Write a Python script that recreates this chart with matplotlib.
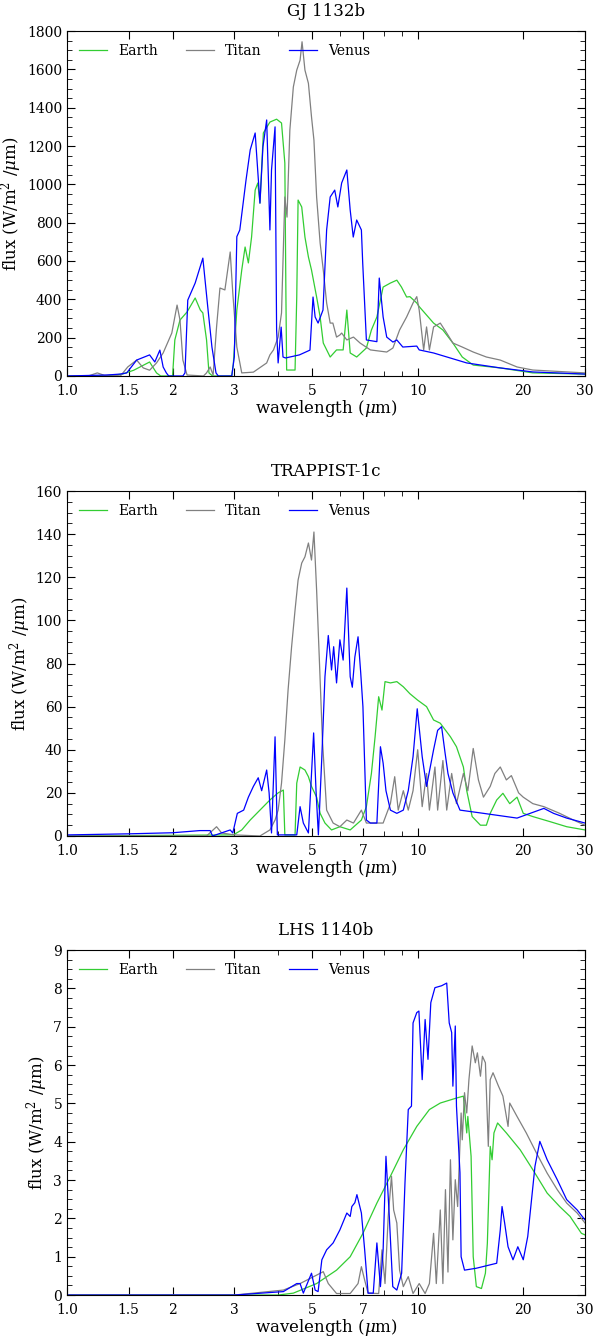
import numpy as np
import matplotlib
matplotlib.use('Agg')
import matplotlib.pyplot as plt
from matplotlib.ticker import FixedLocator, FixedFormatter, AutoMinorLocator, NullFormatter

plt.rcParams.update({
    'font.family': 'serif',
    'font.serif': ['DejaVu Serif'],
    'mathtext.fontset': 'dejavuserif',
    'font.size': 12,
    'xtick.direction': 'in',
    'ytick.direction': 'in',
    'xtick.top': True,
    'ytick.right': True,
    'xtick.major.size': 6,
    'xtick.minor.size': 3.5,
    'ytick.major.size': 6,
    'ytick.minor.size': 3.5,
    'legend.frameon': False,
})

# ---- GJ 1132b ----
gj_earth_wl = [1.0, 1.3, 1.44, 1.55, 1.72, 1.8, 1.85, 2.0, 2.03, 2.1, 2.2, 2.32, 2.4, 2.44, 2.5, 2.54, 2.6,
               2.95, 2.98, 3.05, 3.15, 3.22, 3.29, 3.36, 3.44, 3.5, 3.55, 3.63, 3.79, 3.96, 4.09, 4.18, 4.21,
               4.23, 4.47, 4.52, 4.56, 4.67, 4.77, 4.88, 4.98, 5.15, 5.27, 5.38, 5.63, 5.87, 6.13, 6.28, 6.42,
               6.7, 7.14, 7.38, 7.65, 7.97, 8.36, 8.72, 8.99, 9.3, 9.5, 9.94, 10.1, 11.1, 11.8, 12.6, 13.4,
               14.4, 17.2, 21.3, 30.0]
gj_earth_flux = [0, 0, 10, 30, 73, 16, 0, 0, 188, 292, 334, 407, 344, 329, 188, 16, 0,
                 0, 60, 344, 553, 673, 590, 725, 970, 1007, 902, 1268, 1325, 1340, 1320, 1111, 412,
                 31, 31, 412, 918, 882, 725, 621, 553, 412, 308, 172, 99, 136, 136, 344, 120,
                 99, 146, 240, 308, 464, 485, 500, 464, 412, 414, 381, 362, 276, 240, 172, 99,
                 57, 42, 16, 10]

gj_titan_wl = [1.0, 1.15, 1.22, 1.28, 1.33, 1.42, 1.49, 1.58, 1.65, 1.72, 1.8, 1.88, 1.99, 2.06, 2.1, 2.14,
               2.2, 2.45, 2.5, 2.56, 2.61, 2.67, 2.73, 2.82, 2.92, 2.97, 3.05, 3.15, 3.4, 3.71, 3.79, 3.88,
               4.0, 4.09, 4.18, 4.24, 4.32, 4.42, 4.52, 4.62, 4.68, 4.77, 4.88, 4.98, 5.06, 5.15, 5.27,
               5.38, 5.5, 5.63, 5.73, 5.87, 6.0, 6.07, 6.28, 6.56, 6.85, 7.33, 8.16, 8.5, 8.88, 9.3, 9.7,
               9.94, 10.1, 10.4, 10.6, 10.8, 11.1, 11.6, 12.1, 12.6, 13.4, 14.4, 15.7, 17.2, 19.2, 21.3,
               30.0]
gj_titan_flux = [0, 0, 16, 3, 5, 0, 47, 83, 42, 30, 68, 120, 224, 370, 292, 83,
                 5, 0, 16, 47, 5, 256, 459, 449, 647, 433, 151, 16, 20, 68, 110, 136,
                 203, 329, 934, 829, 1283, 1508, 1596, 1648, 1744, 1596, 1527, 1352, 1231, 934, 694,
                 553, 381, 276, 276, 203, 214, 224, 188, 203, 172, 136, 125, 146, 240, 308, 381,
                 414, 344, 136, 256, 136, 256, 276, 224, 172, 151, 125, 99, 83, 47, 31,
                 16]

gj_venus_wl = [1.0, 1.3, 1.42, 1.48, 1.58, 1.72, 1.78, 1.84, 1.88, 1.92, 1.95, 2.14, 2.17, 2.21, 2.32, 2.44,
               2.52, 2.59, 2.66, 2.7, 2.95, 3.0, 3.05, 3.11, 3.24, 3.33, 3.44, 3.55, 3.62, 3.71, 3.79,
               3.83, 3.92, 3.96, 4.0, 4.08, 4.13, 4.2, 4.6, 4.93, 5.03, 5.1, 5.2, 5.37, 5.5, 5.63, 5.8,
               5.92, 6.07, 6.28, 6.42, 6.55, 6.7, 6.91, 6.97, 7.14, 7.65, 7.77, 7.97, 8.16, 8.5, 8.72,
               9.07, 9.94, 10.1, 11.1, 13.8, 17.2, 21.3, 30.0]
gj_venus_flux = [0, 5, 10, 16, 83, 110, 73, 135, 47, 16, 0, 0, 16, 396, 485, 615,
                 360, 151, 16, 0, 0, 100, 727, 762, 1023, 1180, 1268, 902, 1195, 1336, 762,
                 1075, 1300, 240, 68, 255, 99, 94, 110, 135, 412, 308, 276, 344, 762, 934, 970,
                 882, 1007, 1075, 866, 725, 814, 762, 590, 188, 179, 511, 308, 203, 177, 188,
                 151, 156, 136, 120, 68, 42, 21, 10]

# ---- TRAPPIST-1c ----
tr_earth_wl = [1.0, 2.98, 3.15, 3.33, 3.55, 3.79, 4.0, 4.14, 4.18, 4.47, 4.52, 4.62, 4.77, 4.88, 4.98,
               5.15, 5.27, 5.44, 5.68, 6.0, 6.42, 6.91, 7.14, 7.38, 7.56, 7.74, 7.91, 8.07, 8.36, 8.72,
               9.1, 9.5, 10.0, 10.6, 11.1, 11.6, 12.4, 12.9, 13.5, 13.8, 14.3, 15.1, 15.7, 16.1, 16.8,
               17.5, 18.3, 19.2, 20.0, 21.3, 23.9, 26.6, 30.0]
tr_earth_flux = [0, 0.5, 2.8, 7.4, 12, 16.7, 20, 21.3, 0.5, 0.5, 24.5, 32, 30.6, 27.5, 23,
                 18, 10.5, 6, 2.8, 4.3, 2.8, 7.4, 13.6, 29, 46, 64.6, 58.4, 71.6, 71, 71.6,
                 69.2, 66, 63, 60, 53.8, 52.3, 46, 41.4, 32, 21, 9, 5, 5, 10.5, 16.7,
                 19.8, 15, 18, 10.5, 9, 6.6, 4.3, 2.8]

tr_titan_wl = [1.0, 2.5, 2.67, 2.76, 3.0, 3.55, 3.79, 3.92, 4.0, 4.09, 4.18, 4.27, 4.37, 4.47, 4.56, 4.67,
               4.77, 4.88, 4.98, 5.06, 5.15, 5.24, 5.35, 5.5, 5.74, 6.0, 6.28, 6.56, 6.91, 7.14, 7.97,
               8.36, 8.6, 8.8, 9.1, 9.4, 9.7, 10.0, 10.3, 10.6, 10.8, 11.2, 11.4, 11.8, 12.1, 12.5,
               12.9, 13.5, 13.9, 14.4, 14.9, 15.4, 16.1, 16.6, 17.2, 17.9, 18.5, 19.4, 20.0, 21.3,
               22.9, 25.4, 27.8, 30.0]
tr_titan_flux = [0, 0, 4.3, 1.4, 0.5, 0, 2.8, 7.4, 12, 24.5, 44.5, 67.7, 87.8, 104.8, 118.7, 126.6,
                 129.5, 135.9, 128, 141, 114, 83, 44.5, 12, 6, 4.3, 7.4, 6, 12, 6, 6,
                 15, 27.5, 12, 21, 12, 21, 40, 13.6, 29, 12, 32, 12, 35, 12, 29,
                 15, 29, 21, 40.6, 26, 18, 23, 29, 32, 26, 28, 20, 18, 15,
                 13.6, 10.5, 7.4, 5]

tr_venus_wl = [1.0, 1.5, 2.0, 2.39, 2.56, 2.6, 2.92, 2.97, 3.06, 3.19, 3.29, 3.4, 3.51, 3.59, 3.71, 3.77,
               3.83, 3.92, 3.98, 4.52, 4.62, 4.72, 4.88, 5.05, 5.13, 5.21, 5.33, 5.44, 5.56, 5.68, 5.76,
               5.87, 6.0, 6.13, 6.28, 6.42, 6.51, 6.62, 6.76, 6.88, 6.98, 7.14, 7.33, 7.65, 7.83, 7.97,
               8.12, 8.36, 8.72, 9.1, 9.4, 9.7, 9.97, 10.3, 10.6, 11.1, 11.4, 11.7, 11.97, 12.2, 12.6,
               13.2, 15.4, 19.2, 22.9, 24.4, 26.6, 30.0]
tr_venus_flux = [0.5, 1, 1.5, 2.5, 2.5, 0, 2.8, 1.4, 10.5, 12, 18, 23, 27, 21, 30.6, 20,
                 1.4, 46, 0.5, 0.5, 13.6, 6, 1.4, 47.8, 21, 0.5, 36.8, 73.9, 93, 77, 87.8,
                 71, 91, 81.6, 115, 73.9, 69, 83, 92.4, 75.6, 60, 7.4, 6, 6, 41.4, 33.8,
                 21, 12, 10.5, 12, 21, 36.8, 59, 36.8, 23, 40, 49, 50.7, 38.5, 29, 20,
                 12, 10.5, 8.3, 12.8, 10.5, 8.3, 6]

# ---- LHS 1140b ----
lhs_earth_wl = [1.0, 4.0, 4.42, 5.15, 5.87, 6.42, 6.98, 7.65, 8.36, 9.1, 9.94, 10.8, 11.6, 12.9, 13.5,
                13.8, 13.9, 14.2, 14.4, 14.7, 15.2, 15.6, 15.8, 16.1, 16.3, 16.5, 16.9, 17.9, 19.6,
                21.3, 23.4, 25.4, 27.2, 29.3, 30.0]
lhs_earth_flux = [0, 0, 0.05, 0.3, 0.65, 1.0, 1.61, 2.4, 3.1, 3.79, 4.4, 4.84, 5.01, 5.14, 5.19,
                  4.23, 4.66, 3.62, 1.0, 0.22, 0.17, 0.57, 1.35, 3.88, 3.53, 4.23, 4.49, 4.23, 3.79,
                  3.27, 2.66, 2.31, 2.05, 1.61, 1.57]

lhs_titan_wl = [1.0, 3.0, 4.14, 4.62, 5.15, 5.38, 5.56, 5.87, 6.42, 6.76, 6.91, 7.06, 7.22, 7.74, 7.91,
                8.07, 8.24, 8.42, 8.54, 8.72, 8.88, 9.1, 9.4, 9.7, 10.1, 10.5, 10.8, 11.1, 11.3, 11.6,
                11.8, 12.0, 12.2, 12.4, 12.6, 12.8, 13.0, 13.3, 13.4, 13.6, 13.8, 14.0, 14.3, 14.6, 14.8,
                15.1, 15.3, 15.6, 15.9, 16.1, 16.4, 17.0, 17.5, 18.1, 18.3, 19.2, 20.4, 21.8, 23.4,
                25.0, 26.6, 28.5, 30.0]
lhs_titan_flux = [0, 0, 0.13, 0.3, 0.52, 0.61, 0.3, 0.04, 0.04, 0.3, 0.74, 0.39, 0.05, 0.04, 1.18,
                  0.3, 2.05, 3.1, 2.22, 1.88, 0.65, 0.22, 0.48, 0.04, 0.3, 0.04, 0.3, 1.61, 0.3, 2.22,
                  0.3, 2.75, 0.6, 3.53, 1.44, 3.01, 2.31, 4.75, 4.05, 5.28, 4.75, 5.62, 6.5, 6.06, 6.32,
                  5.71, 6.23, 6.06, 3.88, 5.62, 5.8, 5.45, 5.19, 4.4, 5.01, 4.66, 4.23, 3.71, 3.18,
                  2.75, 2.4, 2.14, 1.88]

lhs_venus_wl = [1.0, 3.0, 4.14, 4.52, 4.62, 4.72, 4.98, 5.1, 5.2, 5.33, 5.5, 5.74, 6.0, 6.28, 6.42, 6.49,
                6.62, 6.71, 6.91, 7.06, 7.22, 7.47, 7.65, 7.83, 7.97, 8.12, 8.3, 8.49, 8.72, 9.0, 9.2,
                9.4, 9.6, 9.7, 9.94, 10.08, 10.3, 10.5, 10.7, 10.9, 11.2, 11.7, 12.1, 12.3, 12.5, 12.6,
                12.8, 12.9, 13.2, 13.3, 13.6, 14.7, 16.8, 17.2, 17.4, 17.7, 18.1, 18.7, 19.3, 20.0,
                20.6, 21.6, 22.3, 23.4, 25.0, 26.6, 28.5, 30.0]
lhs_venus_flux = [0, 0, 0.09, 0.3, 0.3, 0.05, 0.57, 0.13, 0.09, 0.92, 1.18, 1.36, 1.7, 2.14, 2.05, 2.31,
                  2.41, 2.62, 2.14, 1.18, 0.05, 0.05, 1.36, 0.22, 1.18, 3.62, 2.05, 0.22, 0.13, 0.57, 2.93,
                  4.84, 4.93, 7.1, 7.37, 7.41, 5.62, 7.19, 6.15, 7.63, 8.02, 8.07, 8.14, 7.1, 6.85, 5.45,
                  7.02, 4.93, 3.19, 1.0, 0.65, 0.7, 0.83, 1.7, 2.31, 1.88, 1.26, 0.92, 1.26, 0.92,
                  1.53, 3.36, 4.01, 3.53, 3.01, 2.49, 2.22, 1.96]

x_ticks = [1.0, 1.5, 2, 3, 5, 7, 10, 20, 30]
x_ticklabels = ['1.0', '1.5', '2', '3', '5', '7', '10', '20', '30']
x_minor = [4, 6, 8, 9]

panels = [
    ('GJ 1132b', (0, 1800), 200,
     [(gj_earth_wl, gj_earth_flux), (gj_titan_wl, gj_titan_flux), (gj_venus_wl, gj_venus_flux)]),
    ('TRAPPIST-1c', (0, 160), 20,
     [(tr_earth_wl, tr_earth_flux), (tr_titan_wl, tr_titan_flux), (tr_venus_wl, tr_venus_flux)]),
    ('LHS 1140b', (0, 9), 1,
     [(lhs_earth_wl, lhs_earth_flux), (lhs_titan_wl, lhs_titan_flux), (lhs_venus_wl, lhs_venus_flux)]),
]
names = ['Earth', 'Titan', 'Venus']
colors = ['limegreen', 'gray', 'b']

fig = plt.figure(figsize=(5.95, 13.38), dpi=100)
bottoms = [0.7190, 0.3752, 0.0321]

for (title, ylim, ystep, series), b in zip(panels, bottoms):
    ax = fig.add_axes([0.1126, b, 0.8706, 0.2578])
    for (wl, fl), name, c in zip(series, names, colors):
        ax.plot(wl, fl, color=c, lw=0.9, label=name)
    ax.set_xscale('log')
    ax.set_xlim(1, 30)
    ax.set_ylim(*ylim)
    ax.xaxis.set_major_locator(FixedLocator(x_ticks))
    ax.xaxis.set_major_formatter(FixedFormatter(x_ticklabels))
    ax.xaxis.set_minor_locator(FixedLocator(x_minor))
    ax.xaxis.set_minor_formatter(NullFormatter())
    ax.set_yticks(np.arange(ylim[0], ylim[1] + ystep, ystep))
    ax.yaxis.set_minor_locator(AutoMinorLocator(4))
    ax.tick_params(labelsize=10)
    ax.tick_params(axis='x', which='major', pad=6)
    ax.set_xlabel(r'wavelength ($\mu$m)', labelpad=0)
    ax.set_ylabel(r'flux (W/m$^2$ /$\mu$m)', labelpad=2)
    ax.set_title(title, fontsize=12, pad=11)
    ax.legend(loc='upper left', ncol=3, fontsize=10)

fig.savefig('out.png', dpi=100)
